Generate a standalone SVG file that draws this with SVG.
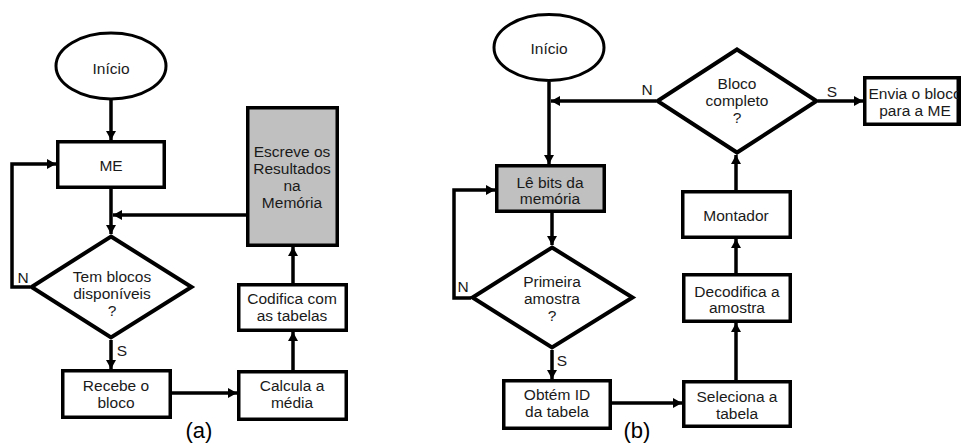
<svg xmlns="http://www.w3.org/2000/svg" width="961" height="443" viewBox="0 0 961 443">
<defs>
<marker id="ah" markerUnits="userSpaceOnUse" markerWidth="12" markerHeight="12" refX="9" refY="5" orient="auto">
<path d="M0,0 L9,5 L0,10 Z" fill="#000"/>
</marker>
<style>
.bx{fill:#fff;stroke:#000;stroke-width:3.5}
.gr{fill:#c0c0c0;stroke:#000;stroke-width:3.5}
.el{fill:#fff;stroke:#000;stroke-width:3}
.dm{fill:#fff;stroke:#000;stroke-width:4;stroke-linejoin:miter}
.cn{fill:none;stroke:#000;stroke-width:3.5;marker-end:url(#ah)}
.ln{fill:none;stroke:#000;stroke-width:3.5}
text{font-family:"Liberation Sans",Arial,sans-serif;font-size:15.5px;fill:#1a1a1a;text-anchor:middle}
.lb{font-size:22px;fill:#000}
</style>
</defs>
<rect width="961" height="443" fill="#fff"/>

<g id="connectors">
<path class="cn" d="M111 100 V140"/>
<path class="cn" d="M111 189 V234"/>
<path class="cn" d="M246 215 H113"/>
<path class="cn" d="M30 287 H12 V164 H56"/>
<path class="cn" d="M111 340 V369"/>
<path class="cn" d="M172 393 H237"/>
<path class="cn" d="M293 370 V332"/>
<path class="cn" d="M293 283 V247"/>

<path class="cn" d="M549 82 V164"/>
<path class="cn" d="M656 101 H551"/>
<path class="cn" d="M552 213 V245"/>
<path class="cn" d="M471 298 H454 V190 H495"/>
<path class="cn" d="M552 350 V379"/>
<path class="cn" d="M612 403 H682"/>
<path class="cn" d="M736 380 V323"/>
<path class="cn" d="M736 273 V239"/>
<path class="cn" d="M736 190 V155"/>
<path class="cn" d="M818 101 H863"/>
</g>

<g id="a_inicio"><ellipse class="el" cx="111" cy="66" rx="55" ry="33"/><text x="111" y="74">Início</text></g>
<g id="a_me"><rect class="bx" x="57.75" y="141.75" width="106.5" height="45.5"/><text x="111" y="171">ME</text></g>
<g id="a_escreve"><rect class="gr" x="247.75" y="107.75" width="89.5" height="137.5"/><text x="292" y="157">Escreve os</text><text x="292" y="174">Resultados</text><text x="292" y="191">na</text><text x="292" y="208">Memória</text></g>
<g id="a_decisao"><polygon class="dm" points="111,236.5 191.5,287 111,337.5 31.5,287"/><text x="112" y="282">Tem blocos</text><text x="112" y="299">disponíveis</text><text x="112" y="316">?</text></g>
<g id="a_recebe"><rect class="bx" x="62.75" y="370.75" width="107.5" height="46.5"/><text x="116" y="391">Recebe o</text><text x="116" y="408">bloco</text></g>
<g id="a_calcula"><rect class="bx" x="238.75" y="371.75" width="107.5" height="47.5"/><text x="292" y="391">Calcula a</text><text x="292" y="408">média</text></g>
<g id="a_codifica"><rect class="bx" x="238.75" y="284.75" width="107.5" height="45.5"/><text x="292" y="304">Codifica com</text><text x="292" y="321">as tabelas</text></g>
<g id="a_labels"><text x="23" y="283">N</text><text x="122" y="356">S</text><text class="lb" x="199" y="438">(a)</text></g>

<g id="b_inicio"><ellipse class="el" cx="549" cy="47.5" rx="55" ry="33"/><text x="549" y="54">Início</text></g>
<g id="b_le"><rect class="gr" x="496.75" y="165.75" width="107.5" height="45.5"/><text x="550" y="188">Lê bits da</text><text x="550" y="204">memória</text></g>
<g id="b_primeira"><polygon class="dm" points="552,247.5 632.5,297.5 552,347.5 472.5,297.5"/><text x="552" y="287">Primeira</text><text x="552" y="304">amostra</text><text x="552" y="321">?</text></g>
<g id="b_obtem"><rect class="bx" x="503.75" y="380.75" width="106.5" height="47.5"/><text x="557" y="400">Obtém ID</text><text x="557" y="417">da tabela</text></g>
<g id="b_seleciona"><rect class="bx" x="683.75" y="381.75" width="106.5" height="44.5"/><text x="737" y="402">Seleciona a</text><text x="737" y="419">tabela</text></g>
<g id="b_decodifica"><rect class="bx" x="683.75" y="274.75" width="106.5" height="46.5"/><text x="737" y="297">Decodifica a</text><text x="737" y="313">amostra</text></g>
<g id="b_montador"><rect class="bx" x="682.75" y="191.75" width="107.5" height="45.5"/><text x="736" y="221">Montador</text></g>
<g id="b_bloco"><polygon class="dm" points="737,49.5 816.5,101 737,152.5 657.5,101"/><text x="737" y="89">Bloco</text><text x="737" y="106">completo</text><text x="737" y="123">?</text></g>
<g id="b_envia"><rect class="bx" x="864.75" y="77.75" width="93.5" height="46.5"/><text x="915" y="99">Envia o bloco</text><text x="915" y="116">para a ME</text><rect x="958.25" y="76" width="3" height="50" fill="#000"/></g>
<g id="b_labels"><text x="647" y="95">N</text><text x="832" y="97">S</text><text x="463" y="292">N</text><text x="562" y="366">S</text><text class="lb" x="637" y="438">(b)</text></g>
</svg>
